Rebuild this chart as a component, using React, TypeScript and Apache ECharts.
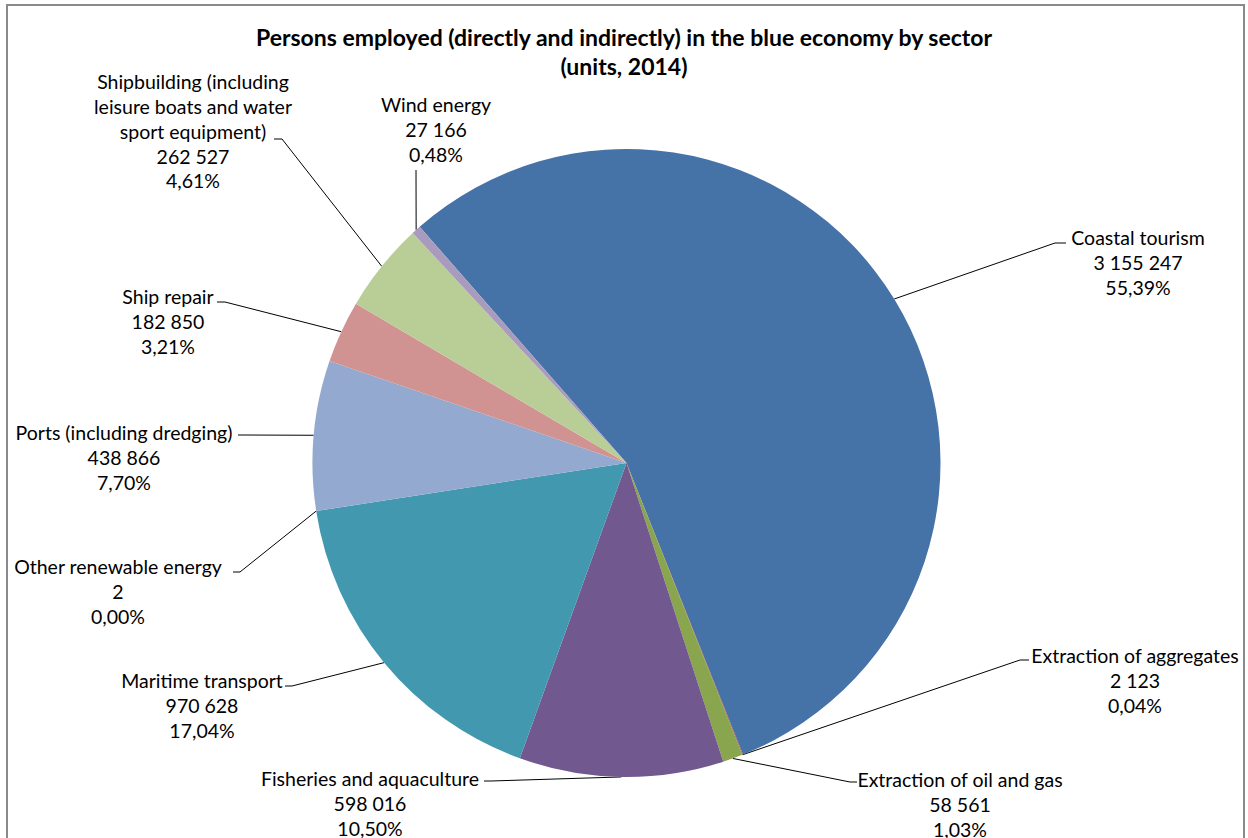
import React, { useEffect, useRef } from "react";
import * as echarts from "echarts";

// ---- data ----
const titleLines = [
  "Persons employed (directly and indirectly) in the blue economy by sector",
  "(units, 2014)",
];
const sectors = [
  "Coastal tourism",
  "Extraction of aggregates",
  "Extraction of oil and gas",
  "Fisheries and aquaculture",
  "Maritime transport",
  "Other renewable energy",
  "Ports (including dredging)",
  "Ship repair",
  "Shipbuilding (including\nleisure boats and water\nsport equipment)",
  "Wind energy",
];
const employed = [3155247, 2123, 58561, 598016, 970628, 2, 438866, 182850, 262527, 27166];

// ---- styles / layout ----
const sliceColors = [
  "#4572A7", "#AA4643", "#89A54E", "#71588F", "#4198AF",
  "#DB843D", "#93A9CF", "#D19392", "#B9CD96", "#A99BBD",
];
const FONT = "Lato, 'Open Sans', sans-serif";
const LINE_H = 24.7;
// label text centre x, first-line centre y, leader elbow (ex, ey), leader end x (tx)
const labelSpots = [
  { cx: 1138, ly: 238, ex: 1055, ey: 243, tx: 1066 },
  { cx: 1135, ly: 656, ex: 1020, ey: 660, tx: 1029 },
  { cx: 960, ly: 780, ex: 850, ey: 782, tx: 857 },
  { cx: 370, ly: 779, ex: 491, ey: 781, tx: 484 },
  { cx: 202, ly: 681, ex: 292, ey: 686, tx: 285 },
  { cx: 118, ly: 567, ex: 240, ey: 572, tx: 233 },
  { cx: 124, ly: 433, ex: 245, ey: 435, tx: 238 },
  { cx: 168, ly: 297, ex: 225, ey: 302, tx: 217 },
  { cx: 193, ly: 82, ex: 282, ey: 139, tx: 274 },
  { cx: 436, ly: 105, ex: 416, ey: 170, tx: 416 },
];
const CENTER = [626.5, 463];
const RADIUS = 314;
const START_ANGLE = 131.2;

const total = employed.reduce((a, b) => a + b, 0);
const fmtNum = (v: number) => String(v).replace(/\B(?=(\d{3})+(?!\d))/g, " ");
const fmtPct = (v: number) => (v / total * 100).toFixed(2).replace(".", ",") + "%";

export default function App() {
  const ref = useRef<HTMLDivElement>(null);
  useEffect(() => {
    if (!ref.current) return;
    const chart = echarts.init(ref.current, null, { renderer: "svg" });
    const edgePoint = (i: number) => {
      let cum = 0;
      for (let k = 0; k < i; k++) cum += employed[k];
      const mid = (cum + employed[i] / 2) / total * 360;
      const a = (START_ANGLE - mid) * Math.PI / 180;
      return [CENTER[0] + RADIUS * Math.cos(a), CENTER[1] - RADIUS * Math.sin(a)];
    };
    chart.setOption({
      animation: false,
      backgroundColor: "#ffffff",
      title: {
        text: titleLines.join("\n"),
        left: "center",
        top: 17,
        textStyle: {
          fontFamily: FONT,
          fontSize: 23,
          fontWeight: "bold",
          lineHeight: 29,
          color: "#000",
        },
      },
      graphic: [
        {
          type: "rect",
          z: -10,
          silent: true,
          shape: { x: 7, y: 5, width: 1237, height: 900 },
          style: { fill: "none", stroke: "#8a8a8a", lineWidth: 2 },
        },
      ],
      series: [
        {
          type: "pie",
          silent: true,
          center: CENTER,
          radius: RADIUS,
          startAngle: START_ANGLE,
          clockwise: true,
          avoidLabelOverlap: false,
          data: sectors.map((name, i) => ({
            name,
            value: employed[i],
            itemStyle: { color: sliceColors[i] },
          })),
          itemStyle: { borderWidth: 0 },
          emphasis: { disabled: true },
          label: {
            show: true,
            position: "outside",
            color: "#000",
            fontFamily: FONT,
            fontSize: 19.5,
            lineHeight: LINE_H,
            formatter: (p: any) => `${p.name}\n${fmtNum(p.value)}\n${fmtPct(p.value)}`,
          },
          labelLine: {
            show: true,
            length: 10,
            length2: 10,
            lineStyle: { color: "#000", width: 1 },
          },
          labelLayout: (params: any) => {
            const i = params.dataIndex;
            const s = labelSpots[i];
            const p0 = edgePoint(i);
            return {
              x: s.cx,
              y: s.ly - LINE_H / 2,
              align: "center",
              verticalAlign: "top",
              labelLinePoints: [p0, [s.ex, s.ey], [s.tx, s.ey]],
            };
          },
        },
      ],
    });
    return () => chart.dispose();
  }, []);
  return (
    <div
      ref={ref}
      style={{ position: "fixed", left: 0, top: 0, width: 1248, height: 838 }}
    />
  );
}
